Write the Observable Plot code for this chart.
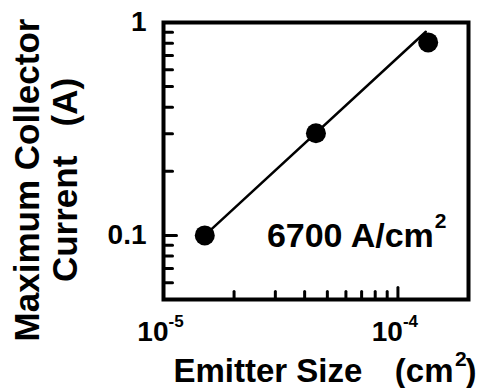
<!DOCTYPE html>
<html><head><meta charset="utf-8">
<script src="https://cdn.jsdelivr.net/npm/d3@7"></script>
<script src="https://cdn.jsdelivr.net/npm/@observablehq/plot@0.6"></script>
<style>
html,body{margin:0;padding:0;background:#fff;}
#overlay{position:absolute;left:0;top:0;width:485px;height:388px;background:rgba(255,255,255,0);pointer-events:none;font-size:1px;color:transparent;}
</style></head><body><div id="chart"></div><div id="overlay">&nbsp;</div>
<script>
// data
const emitterSize = [1.5e-5, 4.47e-5, 1.346e-4];
const maxCurrent = [0.1, 0.302, 0.806];
const fitX = [1.5e-5, 1.315e-4];
const fitY = [0.1, 0.905];
const xDomain = [1e-5, 2e-4];
const yDomain = [0.05, 1];
const xMajorTicks = [1e-5, 1e-4];
const xTickBase = ["10", "10"];
const xTickExp = ["-5", "-4"];
const xMinorTicks = [2e-5, 3e-5, 4e-5, 5e-5, 6e-5, 7e-5, 8e-5, 9e-5];
const yMajorTicks = [0.1, 1];
const yMajorLabels = ["0.1", "1"];
const yMinorTicks = [0.06, 0.07, 0.08, 0.09, 0.2, 0.3, 0.4, 0.5, 0.6, 0.7, 0.8, 0.9];
const annotationX = [1.423e-4];
const annotationY = [0.1];
const annotationBase = ["6700 A/cm"];
const annotationExp = ["2"];
const xTitleParts = ["Emitter Size", "(cm", "2", ")"];
const yTitle = ["Maximum Collector\nCurrent   (A)"];

const W = 485, H = 388;
const mL = 163, mR = 17, mT = 22, mB = 89;
const font = "Liberation Sans, Arial, Helvetica, sans-serif";
const txt = {fontWeight: "bold", fontFamily: font, fill: "black"};
const tickShape = {draw(context, l) { context.moveTo(0, 0); context.lineTo(0, -l); }};

const plot = Plot.plot({
  width: W, height: H,
  marginLeft: mL, marginRight: mR, marginTop: mT, marginBottom: mB,
  style: {fontFamily: font, fontWeight: "bold", background: "white", color: "black"},
  x: {type: "log", domain: xDomain, axis: null},
  y: {type: "log", domain: yDomain, axis: null},
  marks: [
    Plot.vectorX(xMinorTicks, {x: d => d, frameAnchor: "bottom", anchor: "start", length: 8, shape: tickShape, stroke: "black", strokeWidth: 3}),
    Plot.vectorX(xMajorTicks, {x: d => d, frameAnchor: "bottom", anchor: "start", length: 12, shape: tickShape, stroke: "black", strokeWidth: 3}),
    Plot.vectorY(yMinorTicks, {y: d => d, frameAnchor: "left", anchor: "start", rotate: 90, length: 9, shape: tickShape, stroke: "black", strokeWidth: 3}),
    Plot.vectorY(yMajorTicks, {y: d => d, frameAnchor: "left", anchor: "start", rotate: 90, length: 13, shape: tickShape, stroke: "black", strokeWidth: 3}),
    Plot.line(fitX, {x: d => d, y: (d, i) => fitY[i], stroke: "black", strokeWidth: 2.5}),
    Plot.dot(emitterSize, {x: d => d, y: (d, i) => maxCurrent[i], r: 10, fill: "black", stroke: "none"}),
    Plot.frame({stroke: "black", strokeWidth: 4}),
    // x tick labels: base + exponent
    Plot.text(xMajorTicks, {x: d => d, text: (d, i) => xTickBase[i], frameAnchor: "bottom", dx: 5, dy: 41,
      lineAnchor: "bottom", textAnchor: "end", fontSize: 28, ...txt}),
    Plot.text(xMajorTicks, {x: d => d, text: (d, i) => xTickExp[i], frameAnchor: "bottom", dx: 5, dy: 27,
      lineAnchor: "bottom", textAnchor: "start", fontSize: 17, ...txt}),
    // y tick labels
    Plot.text(yMajorTicks, {y: d => d, text: (d, i) => yMajorLabels[i], frameAnchor: "left", dx: -17,
      textAnchor: "end", fontSize: 28, ...txt}),
    // annotation
    Plot.text(annotationBase, {x: (d, i) => annotationX[i], y: (d, i) => annotationY[i], text: d => d,
      dy: 11.5, lineAnchor: "bottom", textAnchor: "end", fontSize: 34, ...txt}),
    Plot.text(annotationExp, {x: (d, i) => annotationX[i], y: (d, i) => annotationY[i], text: d => d,
      dx: 1, dy: -7, lineAnchor: "bottom", textAnchor: "start", fontSize: 21, ...txt}),
    // x title
    Plot.text([xTitleParts[0]], {text: d => d, frameAnchor: "bottom-left", dx: 10, dy: 82.5,
      lineAnchor: "bottom", textAnchor: "start", fontSize: 33, ...txt}),
    Plot.text([xTitleParts[1]], {text: d => d, frameAnchor: "bottom-left", dx: 290, dy: 82.5,
      lineAnchor: "bottom", textAnchor: "end", fontSize: 33, ...txt}),
    Plot.text([xTitleParts[2]], {text: d => d, frameAnchor: "bottom-left", dx: 291.5, dy: 66,
      lineAnchor: "bottom", textAnchor: "start", fontSize: 21, ...txt}),
    Plot.text([xTitleParts[3]], {text: d => d, frameAnchor: "bottom-left", dx: 302, dy: 82.5,
      lineAnchor: "bottom", textAnchor: "start", fontSize: 33, ...txt}),
    // y title
    Plot.text(yTitle, {text: d => d, frameAnchor: "left", rotate: -90, dx: -118, dy: 19, lineHeight: 1.11,
      textAnchor: "middle", fontSize: 35, ...txt})
  ]
});
document.getElementById("chart").appendChild(plot);
</script></body></html>
